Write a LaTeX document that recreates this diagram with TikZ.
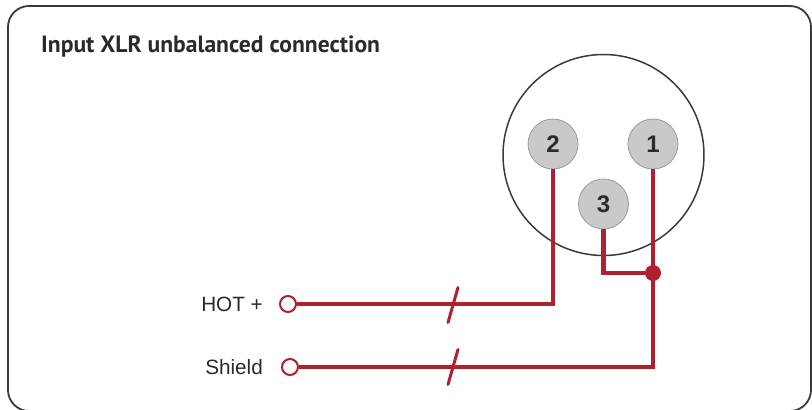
\documentclass[tikz,border=0pt]{standalone}
\usepackage{fontspec}
\setmainfont{Liberation Sans}
\newfontfamily\titlefont{PT Sans}
\definecolor{wire}{HTML}{B0202E}
\definecolor{pinfill}{HTML}{C9C9CB}
\definecolor{pinline}{HTML}{9A9A9C}
\definecolor{frameline}{HTML}{3A3A3A}
\definecolor{txt}{HTML}{2A2A2A}
\begin{document}
\begin{tikzpicture}[x=1pt,y=-1pt,
  pin/.style={circle,draw=pinline,fill=pinfill,line width=0.8pt,minimum size=50pt,inner sep=0pt,
    font=\fontsize{24}{24}\selectfont\bfseries,text=txt},
  term/.style={circle,draw=wire,fill=white,line width=2pt,minimum size=16pt,inner sep=0pt},
  wireline/.style={draw=wire,line width=4.6pt,line join=miter},
  slashline/.style={draw=wire,line width=3pt,line cap=round},
  lbl/.style={font=\fontsize{20.7}{20.7}\selectfont,text=txt,inner sep=0pt},
  jdot/.style={circle,fill=wire,minimum size=16pt,inner sep=0pt}]
\useasboundingbox (0,0) rectangle (812,410);
\begin{scope}
\clip (0,0) rectangle (812,410);
\draw[frameline,line width=1.8pt,rounded corners=21pt] (8,6) rectangle (811,411);
\end{scope}
\node[anchor=base west,inner sep=0pt,font=\titlefont\fontsize{23.6}{23.6}\selectfont\bfseries,text=txt] (title) at (41,52) {Input XLR unbalanced connection};
\node[circle,draw=frameline,line width=1.5pt,minimum size=201pt,inner sep=0pt] (xlr) at (603.5,155) {};
\node[pin] (p2) at (553,144) {2};
\node[pin] (p1) at (653,144) {1};
\node[pin] (p3) at (603.5,204) {3};
\node[term] (hot) at (288,304) {};
\node[term] (shield) at (290,367) {};
\node[lbl,anchor=east] (hotl) at (263,304) {HOT +};
\node[lbl,anchor=east] (shieldl) at (263,367) {Shield};
\coordinate (j) at (653,273);
\draw[wireline] (hot.east) -- (hot.east -| p2.south) -- (p2.south);
\draw[wireline] (shield.east) -- (shield.east -| p1.south) -- (p1.south);
\draw[wireline] (p3.south) -- (p3.south |- j) -- (j);
\node[jdot] (jd) at (j) {};
\coordinate (s1) at (453,305);
\coordinate (s2) at (453,367);
\draw[slashline] ([shift={(-5,17.5)}]s1) -- ([shift={(5,-17.5)}]s1);
\draw[slashline] ([shift={(-5,17.5)}]s2) -- ([shift={(5,-17.5)}]s2);
\end{tikzpicture}
\end{document}
